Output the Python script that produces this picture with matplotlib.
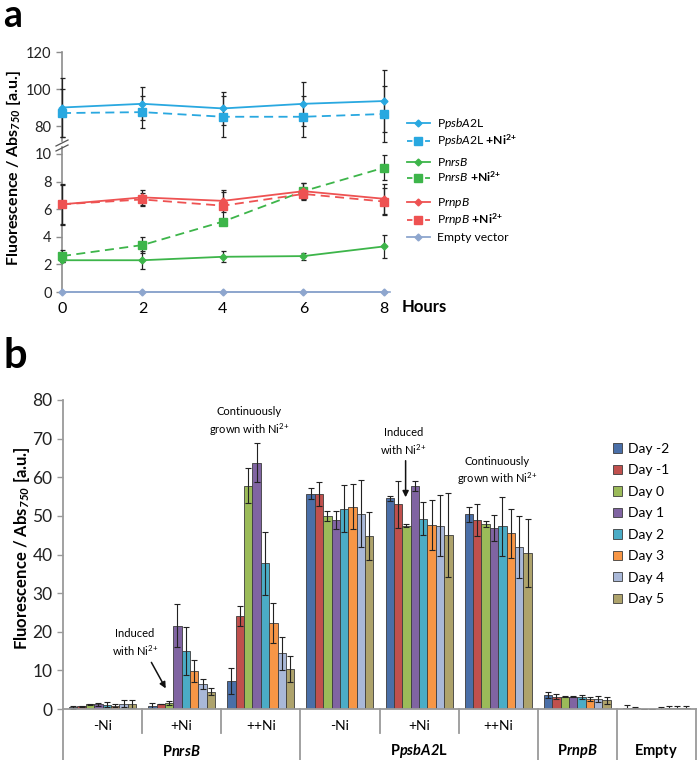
import numpy as np
import matplotlib.pyplot as plt
from matplotlib.lines import Line2D

plt.rcParams['font.family'] = ['Lato', 'DejaVu Sans']
plt.rcParams['mathtext.fontset'] = 'custom'
plt.rcParams['mathtext.rm'] = 'Lato'
plt.rcParams['mathtext.it'] = 'Lato:italic'
plt.rcParams['mathtext.bf'] = 'Lato:bold'
plt.rcParams['mathtext.bfit'] = 'Lato:italic:bold'

# ---- panel a data ----
hours = [0, 2, 4, 6, 8]
psba = [90, 92, 89.5, 92, 93.5]
psba_err = [16, 9, 9, 12, 17]
psba_ni = [87, 87.5, 85, 85, 86.5]
psba_ni_err = [13, 8.5, 11, 11, 15]
nrsb = [2.3, 2.3, 2.55, 2.6, 3.3]
nrsb_err = [0.15, 0.65, 0.4, 0.25, 0.85]
nrsb_ni = [2.6, 3.4, 5.1, 7.3, 9.0]
nrsb_ni_err = [0.45, 0.6, 0.15, 0.6, 0.9]
rnpb = [6.35, 6.85, 6.6, 7.3, 6.75]
rnpb_err = [1.5, 0.55, 0.8, 0.6, 1.1]
rnpb_ni = [6.35, 6.7, 6.25, 7.1, 6.55]
rnpb_ni_err = [1.4, 0.45, 1.0, 0.45, 0.95]
empty = [0, 0, 0, 0, 0]

# ---- panel b data ----
days = ['Day -2', 'Day -1', 'Day 0', 'Day 1', 'Day 2', 'Day 3', 'Day 4', 'Day 5']
conditions = ['-Ni', '+Ni', '++Ni', '-Ni', '+Ni', '++Ni', '', '']
nrsb_minus = [0.4, 0.7, 1.2, 1.2, 1.1, 0.9, 1.4, 1.3]
nrsb_minus_err = [0.4, 0.2, 0.1, 0.4, 0.7, 0.3, 1.0, 1.0]
nrsb_plus = [0.9, 1.3, 1.6, 21.6, 15.0, 9.8, 6.5, 4.5]
nrsb_plus_err = [0.7, 0.1, 0.5, 5.6, 6.3, 2.9, 1.3, 0.9]
nrsb_pp = [7.3, 24.1, 57.8, 63.8, 37.7, 22.3, 14.4, 10.3]
nrsb_pp_err = [3.3, 2.5, 4.5, 5.0, 8.2, 5.2, 4.3, 3.4]
psba_minus = [55.7, 55.6, 50.0, 48.9, 51.9, 52.4, 50.6, 44.8]
psba_minus_err = [1.4, 3.1, 1.3, 2.3, 6.0, 5.9, 8.6, 6.2]
psba_plus = [54.5, 53.0, 47.5, 57.7, 49.3, 47.7, 47.5, 45.0]
psba_plus_err = [0.6, 6.1, 0.3, 1.2, 4.3, 6.5, 7.9, 10.8]
psba_pp = [50.4, 49.0, 47.8, 46.9, 47.3, 45.5, 42.0, 40.3]
psba_pp_err = [2.0, 4.2, 0.8, 3.4, 7.6, 6.3, 8.0, 8.8]
rnpb_b = [3.6, 3.2, 3.2, 3.2, 3.1, 2.6, 2.6, 2.3]
rnpb_b_err = [0.8, 0.6, 0.1, 0.1, 0.6, 0.6, 0.8, 0.9]
empty_b = [0.2, 0.2, 0.05, 0.05, 0.1, 0.2, 0.3, 0.2]
empty_b_err = [0.9, 0.4, 0.05, 0.05, 0.3, 0.5, 0.6, 0.5]

W, H = 697, 760
fig = plt.figure(figsize=(6.97, 7.6), dpi=100)


def box(x0, y0, x1, y1):
    return [x0 / W, 1 - y1 / H, (x1 - x0) / W, (y1 - y0) / H]


blue, green, red, grey = '#29A8E0', '#3DB54A', '#EE5252', '#8EA6CE'
axis_col = '#8c8c8c'

ax_top = fig.add_axes(box(62, 52, 390, 141))
ax_low = fig.add_axes(box(62, 147, 390, 292))


def series(ax, y, err, color, ls, marker, ms):
    ax.errorbar(hours, y, yerr=err, color=color, ls=ls, lw=1.3, marker=marker,
                ms=ms, mfc=color, mec=color, ecolor='#222222', elinewidth=0.9,
                capsize=1.8, capthick=0.9, clip_on=False, zorder=3)


series(ax_top, psba, psba_err, blue, '-', 'D', 3.5)
series(ax_top, psba_ni, psba_ni_err, blue, (0, (5, 3)), 's', 6)
series(ax_low, nrsb, nrsb_err, green, '-', 'D', 3.5)
series(ax_low, nrsb_ni, nrsb_ni_err, green, (0, (5, 3)), 's', 6)
series(ax_low, rnpb, rnpb_err, red, '-', 'D', 3.5)
series(ax_low, rnpb_ni, rnpb_ni_err, red, (0, (5, 3)), 's', 6)
series(ax_low, empty, [0] * 5, grey, '-', 'D', 3.5)

for ax in (ax_top, ax_low):
    ax.set_xlim(0, 8.15)
    for s in ('top', 'right'):
        ax.spines[s].set_visible(False)
    ax.spines['left'].set_color(axis_col)
    ax.spines['left'].set_linewidth(1.2)
    ax.tick_params(axis='y', colors=axis_col, labelcolor='#222222', length=4,
                   width=1, labelsize=10.5)
ax_top.set_ylim(71.9, 120)
ax_top.set_yticks([80, 100, 120])
ax_top.spines['bottom'].set_visible(False)
ax_top.set_xticks([])
ax_low.set_ylim(0, 10.5)
ax_low.set_yticks([0, 2, 4, 6, 8, 10])
ax_low.spines['bottom'].set_color(grey)
ax_low.spines['bottom'].set_linewidth(1.2)
ax_low.set_xticks(hours)
ax_low.tick_params(axis='x', length=0, labelsize=11.5, pad=7)

# axis break marks
for dy in (0, 5):
    fig.add_artist(Line2D([56 / W, 68 / W], [1 - (146 + dy) / H, 1 - (140 + dy) / H],
                          color='#555555', lw=0.9))

fig.text(402 / W, 1 - 307 / H, 'Hours', fontsize=12, fontweight='bold',
         va='center', ha='left')
fig.text(14 / W, 1 - 168 / H, r'Fluorescence / Abs$_{\mathbfit{750}}$ [a.u.]',
         rotation=90, fontsize=11.5, fontweight='bold', ha='center', va='center')
fig.text(3 / W, 1 - 27 / H, 'a', fontsize=27, fontweight='bold', va='baseline')

ni = r'$\mathbf{{+}Ni}^{\mathbf{2{+}}}$'


def legend_group(entries, top):
    hs, ls = [], []
    for color, marker, ms, style, lab in entries:
        hs.append(Line2D([], [], color=color, marker=marker, ms=ms, lw=1.3, ls=style))
        ls.append(lab)
    leg = fig.legend(hs, ls, loc='upper left', bbox_to_anchor=(407 / W, 1 - top / H),
                     frameon=False, fontsize=8.7, handlelength=1.9, handletextpad=0.6,
                     labelspacing=0.15, borderpad=0, borderaxespad=0)
    return leg


legend_group([(blue, 'D', 3.5, '-', r'P$\it{psbA2}$L'),
              (blue, 's', 6, (0, (3, 2)), r'P$\it{psbA2}$L ' + ni)], 116)
legend_group([(green, 'D', 3.5, '-', r'P$\it{nrsB}$'),
              (green, 's', 6, (0, (3, 2)), r'P$\it{nrsB}$ ' + ni)], 156)
legend_group([(red, 'D', 3.5, '-', r'P$\it{rnpB}$'),
              (red, 's', 6, (0, (3, 2)), r'P$\it{rnpB}$ ' + ni)], 196)
legend_group([(grey, 'D', 3.5, '-', 'Empty vector')], 232)

# ---- panel b ----
ax_b = fig.add_axes(box(63, 400, 696, 709))
vals = np.array([nrsb_minus, nrsb_plus, nrsb_pp, psba_minus, psba_plus, psba_pp,
                 rnpb_b, empty_b])
errs = np.array([nrsb_minus_err, nrsb_plus_err, nrsb_pp_err, psba_minus_err,
                 psba_plus_err, psba_pp_err, rnpb_b_err, empty_b_err])
day_colors = ['#4A6FA8', '#C0504D', '#9BBB59', '#8064A2', '#4BACC6', '#F79646',
              '#A9B8D8', '#AEA36C']
xg = np.arange(len(conditions))
bw = 0.106
for d in range(len(days)):
    ax_b.bar(xg + (d - 3.5) * bw, vals[:, d], bw, yerr=errs[:, d],
             color=day_colors[d], edgecolor='#3c3c3c', linewidth=0.6, label=days[d],
             error_kw=dict(elinewidth=0.8, capsize=2, capthick=0.8, ecolor='#222222'))

ax_b.set_xlim(-0.5, 7.5)
ax_b.set_ylim(0, 80)
ax_b.set_yticks(range(0, 81, 10))
ax_b.set_xticks([])
for s in ('top', 'right'):
    ax_b.spines[s].set_visible(False)
for s in ('left', 'bottom'):
    ax_b.spines[s].set_color('#9a9a9a')
    ax_b.spines[s].set_linewidth(1.3)
ax_b.tick_params(axis='y', colors='#9a9a9a', labelcolor='#222222', length=4,
                 width=1, labelsize=12.5)

trans = ax_b.get_xaxis_transform()
for xs in (0.5, 1.5, 3.5, 4.5):
    ax_b.plot([xs, xs], [0, -0.078], transform=trans, color='#9a9a9a', lw=1.3,
              clip_on=False)
for xs in (-0.5, 2.5, 5.5, 6.5, 7.5):
    ax_b.plot([xs, xs], [0, -0.2], transform=trans, color='#9a9a9a', lw=1.3,
              clip_on=False)
for x, c in zip(xg, conditions):
    ax_b.text(x, -0.055, c, transform=trans, ha='center', va='center', fontsize=10)
for x, g in [(1, r'$\mathbf{P}\mathbfit{nrsB}$'), (4, r'$\mathbf{P}\mathbfit{psbA2}\mathbf{L}$'),
             (6, r'$\mathbf{P}\mathbfit{rnpB}$'), (7, r'$\mathbf{Empty}$')]:
    ax_b.text(x, -0.136, g, transform=trans, ha='center', va='center', fontsize=10.5)

ann = dict(ha='center', va='center', fontsize=8, linespacing=1.3)
arrow = dict(arrowstyle='-|>', color='#111111', lw=1.1, mutation_scale=9)
sup = r'Ni$^{2{+}}$'
ax_b.text(0.41, 17.1, 'Induced\nwith ' + sup, **ann)
ax_b.annotate('', xy=(0.815, 4.7), xytext=(0.6, 12.7), arrowprops=arrow)
ax_b.text(1.85, 74.3, 'Continuously\ngrown with ' + sup, **ann)
ax_b.text(3.80, 69.1, 'Induced\nwith ' + sup, **ann)
ax_b.annotate('', xy=(3.83, 54.1), xytext=(3.83, 65.0), arrowprops=arrow)
ax_b.text(4.99, 61.4, 'Continuously\ngrown with ' + sup, **ann)

ax_b.legend(loc='upper left', bbox_to_anchor=(613 / W, 1 - 443 / H),
            bbox_transform=fig.transFigure, frameon=False, fontsize=10,
            handlelength=0.65, handleheight=0.65, handletextpad=0.4,
            labelspacing=0.68, borderpad=0, borderaxespad=0)

fig.text(22 / W, 1 - 548 / H, r'Fluorescence / Abs$_{\mathbfit{750}}$ [a.u.]',
         rotation=90, fontsize=12, fontweight='bold', ha='center', va='center')
fig.text(3 / W, 1 - 368 / H, 'b', fontsize=30, fontweight='bold', va='baseline')

fig.savefig('out.png', dpi=100)
